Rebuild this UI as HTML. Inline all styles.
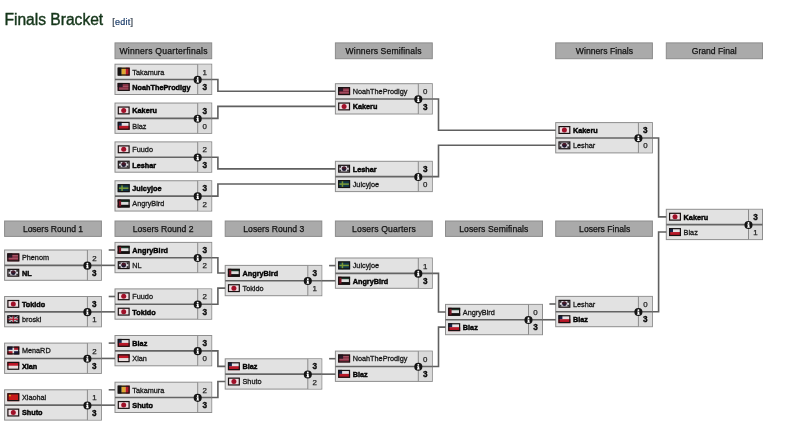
<!DOCTYPE html>
<html><head><meta charset="utf-8"><style>
*{margin:0;padding:0}
html,body{width:800px;height:426px;overflow:hidden;background:#fff}
#wrap{position:absolute;left:0;top:0;width:800px;height:426px;filter:blur(0.4px)}
svg{display:block;font-family:"Liberation Sans",sans-serif}
.h{font-size:8.6px;fill:#111;stroke:#111;stroke-width:0.25px}
.n{font-size:7.6px;fill:#181818;stroke:#181818;stroke-width:0.3px}
.n.b{font-weight:bold;fill:#050505;stroke:#050505;stroke-width:0.45px}
.s{font-size:7.9px;fill:#222;stroke:#222;stroke-width:0.25px}
.s.b{font-size:8.2px;font-weight:bold;fill:#0a0a0a;stroke:#0a0a0a;stroke-width:0.35px}
.tt{font-size:15.6px;fill:#15361a;stroke:#15361a;stroke-width:0.4px}
.ed{font-size:9px;fill:#2e3a48;letter-spacing:0.25px;stroke:#2e3a48;stroke-width:0.2px}
.eb{fill:#20406e;stroke:#20406e}
</style></head><body><div id="wrap"><svg width="800" height="426" viewBox="0 0 800 426">
<defs><g id="f-ae"><rect width="12" height="2.7" fill="#1a3a2a"/><rect y="2.7" width="12" height="2.6" fill="#dcdcdc"/><rect y="5.3" width="12" height="2.7" fill="#111"/><rect width="3.4" height="8" fill="#7a1424"/><rect x="0.6" y="0.6" width="10.8" height="6.8" fill="none" stroke="#181212" stroke-width="1.2"/></g><g id="f-be"><rect width="4" height="8" fill="#151515"/><rect x="4" width="4" height="8" fill="#e0a830"/><rect x="8" width="4" height="8" fill="#b81828"/><rect x="0.6" y="0.6" width="10.8" height="6.8" fill="none" stroke="#181212" stroke-width="1.2"/></g><g id="f-cl"><rect width="12" height="4" fill="#e4e0e4"/><rect y="4" width="12" height="4" fill="#b81828"/><rect width="4" height="4" fill="#182448"/><rect x="0.6" y="0.6" width="10.8" height="6.8" fill="none" stroke="#181212" stroke-width="1.2"/></g><g id="f-cn"><rect width="12" height="8" fill="#c81818"/><circle cx="2.6" cy="2.4" r="1" fill="#d8a020"/><rect x="0.6" y="0.6" width="10.8" height="6.8" fill="none" stroke="#181212" stroke-width="1.2"/></g><g id="f-do"><rect width="12" height="8" fill="#e0e0e0"/><rect width="5.2" height="3.3" fill="#1a1a40"/><rect x="6.8" width="5.2" height="3.3" fill="#a81828"/><rect y="4.7" width="5.2" height="3.3" fill="#a81828"/><rect x="6.8" y="4.7" width="5.2" height="3.3" fill="#1a1a40"/><rect x="0.6" y="0.6" width="10.8" height="6.8" fill="none" stroke="#181212" stroke-width="1.2"/></g><g id="f-gb"><rect width="12" height="8" fill="#221c30"/><path d="M0 0L12 8M12 0L0 8" stroke="#bbb" stroke-width="1.2"/><rect x="5" width="2" height="8" fill="#ddd"/><rect y="3" width="12" height="2" fill="#ddd"/><rect x="5.4" width="1.2" height="8" fill="#b01028"/><rect y="3.4" width="12" height="1.2" fill="#b01028"/><rect x="0.6" y="0.6" width="10.8" height="6.8" fill="none" stroke="#181212" stroke-width="1.2"/></g><g id="f-jp"><rect width="12" height="8" fill="#f0dce0"/><circle cx="6" cy="4" r="2.5" fill="#a01028"/><rect x="0.6" y="0.6" width="10.8" height="6.8" fill="none" stroke="#181212" stroke-width="1.2"/></g><g id="f-kr"><rect width="12" height="8" fill="#d8d4dc"/><circle cx="6" cy="4" r="2.3" fill="#201a30"/><path d="M3.7 4 A2.3 2.3 0 0 1 8.3 4Z" fill="#4a1828"/><rect x="1.2" y="1.2" width="1.8" height="1.8" fill="#333"/><rect x="9" y="1.2" width="1.8" height="1.8" fill="#333"/><rect x="1.2" y="5" width="1.8" height="1.8" fill="#333"/><rect x="9" y="5" width="1.8" height="1.8" fill="#333"/><rect x="0.6" y="0.6" width="10.8" height="6.8" fill="none" stroke="#181212" stroke-width="1.2"/></g><g id="f-se"><rect width="12" height="8" fill="#123a4a"/><rect x="3.6" width="1.5" height="8" fill="#7a9a38"/><rect y="3.3" width="12" height="1.5" fill="#7a9a38"/><rect x="0.6" y="0.6" width="10.8" height="6.8" fill="none" stroke="#181212" stroke-width="1.2"/></g><g id="f-sg"><rect width="12" height="4" fill="#c01828"/><rect y="4" width="12" height="4" fill="#e8dcdc"/><rect x="0.6" y="0.6" width="10.8" height="6.8" fill="none" stroke="#181212" stroke-width="1.2"/></g><g id="f-us"><rect width="12" height="8" fill="#7a2036"/><rect y="1.6" width="12" height="0.8" fill="#b06070"/><rect y="3.2" width="12" height="0.8" fill="#b06070"/><rect y="4.8" width="12" height="0.8" fill="#b06070"/><rect y="6.4" width="12" height="0.8" fill="#b06070"/><rect width="5" height="4.2" fill="#2a1a28"/><rect x="0.6" y="0.6" width="10.8" height="6.8" fill="none" stroke="#181212" stroke-width="1.2"/></g><g id="ic"><circle r="4.05" fill="#141414"/><circle cy="-1.9" r="0.95" fill="#fff"/><path d="M-1.2 -0.6H0.9V1.8H1.3V2.7H-1.3V1.8H-0.8V0.2H-1.2Z" fill="#fff"/></g></defs>
<rect x="115" y="42.9" width="96.7" height="15.8" fill="#aaaaaa" stroke="#8c8c8c" stroke-width="1"/><rect x="335.4" y="42.9" width="96.9" height="15.8" fill="#aaaaaa" stroke="#8c8c8c" stroke-width="1"/><rect x="555.7" y="42.9" width="96.7" height="15.8" fill="#aaaaaa" stroke="#8c8c8c" stroke-width="1"/><rect x="666.3" y="42.9" width="96.2" height="15.8" fill="#aaaaaa" stroke="#8c8c8c" stroke-width="1"/><rect x="4.6" y="221" width="96.8" height="15.4" fill="#aaaaaa" stroke="#8c8c8c" stroke-width="1"/><rect x="115" y="221" width="96.7" height="15.4" fill="#aaaaaa" stroke="#8c8c8c" stroke-width="1"/><rect x="225.2" y="221" width="96.6" height="15.4" fill="#aaaaaa" stroke="#8c8c8c" stroke-width="1"/><rect x="335.4" y="221" width="96.9" height="15.4" fill="#aaaaaa" stroke="#8c8c8c" stroke-width="1"/><rect x="445.5" y="221" width="97" height="15.4" fill="#aaaaaa" stroke="#8c8c8c" stroke-width="1"/><rect x="555.7" y="221" width="96.7" height="15.4" fill="#aaaaaa" stroke="#8c8c8c" stroke-width="1"/><rect x="115" y="64.2" width="96.7" height="30.3" fill="#e2e2e2" stroke="#8e8e8e" stroke-width="1"/><rect x="197.7" y="64.7" width="13.5" height="29.3" fill="#dadada"/><line x1="197.7" y1="64.2" x2="197.7" y2="94.5" stroke="#8a8a8a" stroke-width="1"/><rect x="115" y="103.05" width="96.7" height="30.3" fill="#e2e2e2" stroke="#8e8e8e" stroke-width="1"/><rect x="197.7" y="103.55" width="13.5" height="29.3" fill="#dadada"/><line x1="197.7" y1="103.05" x2="197.7" y2="133.35" stroke="#8a8a8a" stroke-width="1"/><rect x="115" y="141.9" width="96.7" height="30.3" fill="#e2e2e2" stroke="#8e8e8e" stroke-width="1"/><rect x="197.7" y="142.4" width="13.5" height="29.3" fill="#dadada"/><line x1="197.7" y1="141.9" x2="197.7" y2="172.2" stroke="#8a8a8a" stroke-width="1"/><rect x="115" y="180.75" width="96.7" height="30.3" fill="#e2e2e2" stroke="#8e8e8e" stroke-width="1"/><rect x="197.7" y="181.25" width="13.5" height="29.3" fill="#dadada"/><line x1="197.7" y1="180.75" x2="197.7" y2="211.05" stroke="#8a8a8a" stroke-width="1"/><rect x="335.4" y="83.7" width="96.9" height="30.3" fill="#e2e2e2" stroke="#8e8e8e" stroke-width="1"/><rect x="418.3" y="84.2" width="13.5" height="29.3" fill="#dadada"/><line x1="418.3" y1="83.7" x2="418.3" y2="114" stroke="#8a8a8a" stroke-width="1"/><rect x="335.4" y="161.3" width="96.9" height="30.3" fill="#e2e2e2" stroke="#8e8e8e" stroke-width="1"/><rect x="418.3" y="161.8" width="13.5" height="29.3" fill="#dadada"/><line x1="418.3" y1="161.3" x2="418.3" y2="191.6" stroke="#8a8a8a" stroke-width="1"/><rect x="555.7" y="122.6" width="96.7" height="30.3" fill="#e2e2e2" stroke="#8e8e8e" stroke-width="1"/><rect x="638.4" y="123.1" width="13.5" height="29.3" fill="#dadada"/><line x1="638.4" y1="122.6" x2="638.4" y2="152.9" stroke="#8a8a8a" stroke-width="1"/><rect x="666.3" y="209.3" width="96.2" height="30.3" fill="#e2e2e2" stroke="#8e8e8e" stroke-width="1"/><rect x="748.5" y="209.8" width="13.5" height="29.3" fill="#dadada"/><line x1="748.5" y1="209.3" x2="748.5" y2="239.6" stroke="#8a8a8a" stroke-width="1"/><rect x="4.6" y="250" width="96.8" height="30.3" fill="#e2e2e2" stroke="#8e8e8e" stroke-width="1"/><rect x="87.4" y="250.5" width="13.5" height="29.3" fill="#dadada"/><line x1="87.4" y1="250" x2="87.4" y2="280.3" stroke="#8a8a8a" stroke-width="1"/><rect x="4.6" y="296.5" width="96.8" height="30.3" fill="#e2e2e2" stroke="#8e8e8e" stroke-width="1"/><rect x="87.4" y="297" width="13.5" height="29.3" fill="#dadada"/><line x1="87.4" y1="296.5" x2="87.4" y2="326.8" stroke="#8a8a8a" stroke-width="1"/><rect x="4.6" y="343.1" width="96.8" height="30.3" fill="#e2e2e2" stroke="#8e8e8e" stroke-width="1"/><rect x="87.4" y="343.6" width="13.5" height="29.3" fill="#dadada"/><line x1="87.4" y1="343.1" x2="87.4" y2="373.4" stroke="#8a8a8a" stroke-width="1"/><rect x="4.6" y="389.8" width="96.8" height="30.3" fill="#e2e2e2" stroke="#8e8e8e" stroke-width="1"/><rect x="87.4" y="390.3" width="13.5" height="29.3" fill="#dadada"/><line x1="87.4" y1="389.8" x2="87.4" y2="420.1" stroke="#8a8a8a" stroke-width="1"/><rect x="115" y="242.4" width="96.7" height="30.3" fill="#e2e2e2" stroke="#8e8e8e" stroke-width="1"/><rect x="197.7" y="242.9" width="13.5" height="29.3" fill="#dadada"/><line x1="197.7" y1="242.4" x2="197.7" y2="272.7" stroke="#8a8a8a" stroke-width="1"/><rect x="115" y="288.9" width="96.7" height="30.3" fill="#e2e2e2" stroke="#8e8e8e" stroke-width="1"/><rect x="197.7" y="289.4" width="13.5" height="29.3" fill="#dadada"/><line x1="197.7" y1="288.9" x2="197.7" y2="319.2" stroke="#8a8a8a" stroke-width="1"/><rect x="115" y="335.5" width="96.7" height="30.3" fill="#e2e2e2" stroke="#8e8e8e" stroke-width="1"/><rect x="197.7" y="336" width="13.5" height="29.3" fill="#dadada"/><line x1="197.7" y1="335.5" x2="197.7" y2="365.8" stroke="#8a8a8a" stroke-width="1"/><rect x="115" y="382.2" width="96.7" height="30.3" fill="#e2e2e2" stroke="#8e8e8e" stroke-width="1"/><rect x="197.7" y="382.7" width="13.5" height="29.3" fill="#dadada"/><line x1="197.7" y1="382.2" x2="197.7" y2="412.5" stroke="#8a8a8a" stroke-width="1"/><rect x="225.2" y="265.4" width="96.6" height="30.3" fill="#e2e2e2" stroke="#8e8e8e" stroke-width="1"/><rect x="307.8" y="265.9" width="13.5" height="29.3" fill="#dadada"/><line x1="307.8" y1="265.4" x2="307.8" y2="295.7" stroke="#8a8a8a" stroke-width="1"/><rect x="225.2" y="358.8" width="96.6" height="30.3" fill="#e2e2e2" stroke="#8e8e8e" stroke-width="1"/><rect x="307.8" y="359.3" width="13.5" height="29.3" fill="#dadada"/><line x1="307.8" y1="358.8" x2="307.8" y2="389.1" stroke="#8a8a8a" stroke-width="1"/><rect x="335.4" y="258" width="96.9" height="30.3" fill="#e2e2e2" stroke="#8e8e8e" stroke-width="1"/><rect x="418.3" y="258.5" width="13.5" height="29.3" fill="#dadada"/><line x1="418.3" y1="258" x2="418.3" y2="288.3" stroke="#8a8a8a" stroke-width="1"/><rect x="335.4" y="351.1" width="96.9" height="30.3" fill="#e2e2e2" stroke="#8e8e8e" stroke-width="1"/><rect x="418.3" y="351.6" width="13.5" height="29.3" fill="#dadada"/><line x1="418.3" y1="351.1" x2="418.3" y2="381.4" stroke="#8a8a8a" stroke-width="1"/><rect x="445.5" y="304.4" width="97" height="30.3" fill="#e2e2e2" stroke="#8e8e8e" stroke-width="1"/><rect x="528.5" y="304.9" width="13.5" height="29.3" fill="#dadada"/><line x1="528.5" y1="304.4" x2="528.5" y2="334.7" stroke="#8a8a8a" stroke-width="1"/><rect x="555.7" y="296.4" width="96.7" height="30.3" fill="#e2e2e2" stroke="#8e8e8e" stroke-width="1"/><rect x="638.4" y="296.9" width="13.5" height="29.3" fill="#dadada"/><line x1="638.4" y1="296.4" x2="638.4" y2="326.7" stroke="#8a8a8a" stroke-width="1"/>
<line x1="115" y1="79.55" x2="211.7" y2="79.55" stroke="#646464" stroke-width="1.6"/><line x1="115" y1="118.4" x2="211.7" y2="118.4" stroke="#646464" stroke-width="1.6"/><line x1="115" y1="157.25" x2="211.7" y2="157.25" stroke="#646464" stroke-width="1.6"/><line x1="115" y1="196.1" x2="211.7" y2="196.1" stroke="#646464" stroke-width="1.6"/><line x1="335.4" y1="99.05" x2="432.3" y2="99.05" stroke="#646464" stroke-width="1.6"/><line x1="335.4" y1="176.65" x2="432.3" y2="176.65" stroke="#646464" stroke-width="1.6"/><line x1="555.7" y1="137.95" x2="652.4" y2="137.95" stroke="#646464" stroke-width="1.6"/><line x1="666.3" y1="224.65" x2="762.5" y2="224.65" stroke="#646464" stroke-width="1.6"/><line x1="4.6" y1="265.35" x2="101.4" y2="265.35" stroke="#646464" stroke-width="1.6"/><line x1="4.6" y1="311.85" x2="101.4" y2="311.85" stroke="#646464" stroke-width="1.6"/><line x1="4.6" y1="358.45" x2="101.4" y2="358.45" stroke="#646464" stroke-width="1.6"/><line x1="4.6" y1="405.15" x2="101.4" y2="405.15" stroke="#646464" stroke-width="1.6"/><line x1="115" y1="257.75" x2="211.7" y2="257.75" stroke="#646464" stroke-width="1.6"/><line x1="115" y1="304.25" x2="211.7" y2="304.25" stroke="#646464" stroke-width="1.6"/><line x1="115" y1="350.85" x2="211.7" y2="350.85" stroke="#646464" stroke-width="1.6"/><line x1="115" y1="397.55" x2="211.7" y2="397.55" stroke="#646464" stroke-width="1.6"/><line x1="225.2" y1="280.75" x2="321.8" y2="280.75" stroke="#646464" stroke-width="1.6"/><line x1="225.2" y1="374.15" x2="321.8" y2="374.15" stroke="#646464" stroke-width="1.6"/><line x1="335.4" y1="273.35" x2="432.3" y2="273.35" stroke="#646464" stroke-width="1.6"/><line x1="335.4" y1="366.45" x2="432.3" y2="366.45" stroke="#646464" stroke-width="1.6"/><line x1="445.5" y1="319.75" x2="542.5" y2="319.75" stroke="#646464" stroke-width="1.6"/><line x1="555.7" y1="311.75" x2="652.4" y2="311.75" stroke="#646464" stroke-width="1.6"/><path d="M211.7 79.55H217.9V91.3H335.4" fill="none" stroke="#606060" stroke-width="1.6"/><path d="M211.7 118.4H217.9V106.4H335.4" fill="none" stroke="#606060" stroke-width="1.6"/><path d="M211.7 157.25H217.9V168.9H335.4" fill="none" stroke="#606060" stroke-width="1.6"/><path d="M211.7 196.1H217.9V184H335.4" fill="none" stroke="#606060" stroke-width="1.6"/><path d="M432.3 99.05H438.5V130.2H555.7" fill="none" stroke="#606060" stroke-width="1.6"/><path d="M432.3 176.65H438.5V145.3H555.7" fill="none" stroke="#606060" stroke-width="1.6"/><path d="M652.4 137.95H658.6V216.9H666.3" fill="none" stroke="#606060" stroke-width="1.6"/><path d="M652.4 311.75H658.6V232H666.3" fill="none" stroke="#606060" stroke-width="1.6"/><path d="M101.4 265.35H115" fill="none" stroke="#606060" stroke-width="1.6"/><path d="M108.7 250H115" fill="none" stroke="#606060" stroke-width="1.6"/><path d="M101.4 311.85H115" fill="none" stroke="#606060" stroke-width="1.6"/><path d="M108.7 296.5H115" fill="none" stroke="#606060" stroke-width="1.6"/><path d="M101.4 358.45H115" fill="none" stroke="#606060" stroke-width="1.6"/><path d="M108.7 343.1H115" fill="none" stroke="#606060" stroke-width="1.6"/><path d="M101.4 405.15H115" fill="none" stroke="#606060" stroke-width="1.6"/><path d="M108.7 389.8H115" fill="none" stroke="#606060" stroke-width="1.6"/><path d="M211.7 257.75H217.9V273H225.2" fill="none" stroke="#606060" stroke-width="1.6"/><path d="M211.7 304.25H217.9V288.1H225.2" fill="none" stroke="#606060" stroke-width="1.6"/><path d="M211.7 350.85H217.9V366.4H225.2" fill="none" stroke="#606060" stroke-width="1.6"/><path d="M211.7 397.55H217.9V381.5H225.2" fill="none" stroke="#606060" stroke-width="1.6"/><path d="M321.8 280.75H335.4" fill="none" stroke="#606060" stroke-width="1.6"/><path d="M329.1 265.6H335.4" fill="none" stroke="#606060" stroke-width="1.6"/><path d="M321.8 374.15H335.4" fill="none" stroke="#606060" stroke-width="1.6"/><path d="M329.1 358.7H335.4" fill="none" stroke="#606060" stroke-width="1.6"/><path d="M432.3 273.35H438.5V312H445.5" fill="none" stroke="#606060" stroke-width="1.6"/><path d="M432.3 366.45H438.5V327.1H445.5" fill="none" stroke="#606060" stroke-width="1.6"/><path d="M542.5 319.75H555.7" fill="none" stroke="#606060" stroke-width="1.6"/><path d="M549.4 304H555.7" fill="none" stroke="#606060" stroke-width="1.6"/>
<use href="#f-be" x="117.7" y="67.6"/><use href="#f-us" x="117.7" y="82.95"/><use href="#ic" x="197.7" y="79.85"/><use href="#f-jp" x="117.7" y="106.45"/><use href="#f-cl" x="117.7" y="121.8"/><use href="#ic" x="197.7" y="118.7"/><use href="#f-jp" x="117.7" y="145.3"/><use href="#f-kr" x="117.7" y="160.65"/><use href="#ic" x="197.7" y="157.55"/><use href="#f-se" x="117.7" y="184.15"/><use href="#f-ae" x="117.7" y="199.5"/><use href="#ic" x="197.7" y="196.4"/><use href="#f-us" x="338.1" y="87.1"/><use href="#f-jp" x="338.1" y="102.45"/><use href="#ic" x="418.3" y="99.35"/><use href="#f-kr" x="338.1" y="164.7"/><use href="#f-se" x="338.1" y="180.05"/><use href="#ic" x="418.3" y="176.95"/><use href="#f-jp" x="558.4" y="126"/><use href="#f-kr" x="558.4" y="141.35"/><use href="#ic" x="638.4" y="138.25"/><use href="#f-jp" x="669" y="212.7"/><use href="#f-cl" x="669" y="228.05"/><use href="#ic" x="748.5" y="224.95"/><use href="#f-us" x="7.3" y="253.4"/><use href="#f-kr" x="7.3" y="268.75"/><use href="#ic" x="87.4" y="265.65"/><use href="#f-jp" x="7.3" y="299.9"/><use href="#f-gb" x="7.3" y="315.25"/><use href="#ic" x="87.4" y="312.15"/><use href="#f-do" x="7.3" y="346.5"/><use href="#f-sg" x="7.3" y="361.85"/><use href="#ic" x="87.4" y="358.75"/><use href="#f-cn" x="7.3" y="393.2"/><use href="#f-jp" x="7.3" y="408.55"/><use href="#ic" x="87.4" y="405.45"/><use href="#f-ae" x="117.7" y="245.8"/><use href="#f-kr" x="117.7" y="261.15"/><use href="#ic" x="197.7" y="258.05"/><use href="#f-jp" x="117.7" y="292.3"/><use href="#f-jp" x="117.7" y="307.65"/><use href="#ic" x="197.7" y="304.55"/><use href="#f-cl" x="117.7" y="338.9"/><use href="#f-sg" x="117.7" y="354.25"/><use href="#ic" x="197.7" y="351.15"/><use href="#f-be" x="117.7" y="385.6"/><use href="#f-jp" x="117.7" y="400.95"/><use href="#ic" x="197.7" y="397.85"/><use href="#f-ae" x="227.9" y="268.8"/><use href="#f-jp" x="227.9" y="284.15"/><use href="#ic" x="307.8" y="281.05"/><use href="#f-cl" x="227.9" y="362.2"/><use href="#f-jp" x="227.9" y="377.55"/><use href="#ic" x="307.8" y="374.45"/><use href="#f-se" x="338.1" y="261.4"/><use href="#f-ae" x="338.1" y="276.75"/><use href="#ic" x="418.3" y="273.65"/><use href="#f-us" x="338.1" y="354.5"/><use href="#f-cl" x="338.1" y="369.85"/><use href="#ic" x="418.3" y="366.75"/><use href="#f-ae" x="448.2" y="307.8"/><use href="#f-cl" x="448.2" y="323.15"/><use href="#ic" x="528.5" y="320.05"/><use href="#f-kr" x="558.4" y="299.8"/><use href="#f-cl" x="558.4" y="315.15"/><use href="#ic" x="638.4" y="312.05"/>
<text class="h" x="119.4" y="53.8" textLength="88.1" lengthAdjust="spacing">Winners Quarterfinals</text><text class="h" x="345.6" y="53.8" textLength="75.9" lengthAdjust="spacing">Winners Semifinals</text><text class="h" x="575.8" y="53.8" textLength="57.3" lengthAdjust="spacing">Winners Finals</text><text class="h" x="691.7" y="53.8" textLength="45" lengthAdjust="spacing">Grand Final</text><text class="h" x="22.9" y="231.9" textLength="60.1" lengthAdjust="spacing">Losers Round 1</text><text class="h" x="132.8" y="231.9" textLength="60.7" lengthAdjust="spacing">Losers Round 2</text><text class="h" x="243.3" y="231.9" textLength="61" lengthAdjust="spacing">Losers Round 3</text><text class="h" x="352.1" y="231.9" textLength="63.6" lengthAdjust="spacing">Losers Quarters</text><text class="h" x="459.2" y="231.9" textLength="69.2" lengthAdjust="spacing">Losers Semifinals</text><text class="h" x="579.1" y="231.9" textLength="51.1" lengthAdjust="spacing">Losers Finals</text><text class="n" transform="matrix(0.96 0 0 1 132.3 74.5)">Takamura</text><text class="s" x="204.7" y="74.7" text-anchor="middle">1</text><text class="n b" transform="matrix(0.96 0 0 1 132.3 89.85)">NoahTheProdigy</text><text class="s b" x="204.7" y="90.05" text-anchor="middle">3</text><text class="n b" transform="matrix(0.96 0 0 1 132.3 113.35)">Kakeru</text><text class="s b" x="204.7" y="113.55" text-anchor="middle">3</text><text class="n" transform="matrix(0.96 0 0 1 132.3 128.7)">Blaz</text><text class="s" x="204.7" y="128.9" text-anchor="middle">0</text><text class="n" transform="matrix(0.96 0 0 1 132.3 152.2)">Fuudo</text><text class="s" x="204.7" y="152.4" text-anchor="middle">2</text><text class="n b" transform="matrix(0.96 0 0 1 132.3 167.55)">Leshar</text><text class="s b" x="204.7" y="167.75" text-anchor="middle">3</text><text class="n b" transform="matrix(0.96 0 0 1 132.3 191.05)">Juicyjoe</text><text class="s b" x="204.7" y="191.25" text-anchor="middle">3</text><text class="n" transform="matrix(0.96 0 0 1 132.3 206.4)">AngryBird</text><text class="s" x="204.7" y="206.6" text-anchor="middle">2</text><text class="n" transform="matrix(0.96 0 0 1 352.7 94)">NoahTheProdigy</text><text class="s" x="425.3" y="94.2" text-anchor="middle">0</text><text class="n b" transform="matrix(0.96 0 0 1 352.7 109.35)">Kakeru</text><text class="s b" x="425.3" y="109.55" text-anchor="middle">3</text><text class="n b" transform="matrix(0.96 0 0 1 352.7 171.6)">Leshar</text><text class="s b" x="425.3" y="171.8" text-anchor="middle">3</text><text class="n" transform="matrix(0.96 0 0 1 352.7 186.95)">Juicyjoe</text><text class="s" x="425.3" y="187.15" text-anchor="middle">0</text><text class="n b" transform="matrix(0.96 0 0 1 573 132.9)">Kakeru</text><text class="s b" x="645.4" y="133.1" text-anchor="middle">3</text><text class="n" transform="matrix(0.96 0 0 1 573 148.25)">Leshar</text><text class="s" x="645.4" y="148.45" text-anchor="middle">0</text><text class="n b" transform="matrix(0.96 0 0 1 683.6 219.6)">Kakeru</text><text class="s b" x="755.5" y="219.8" text-anchor="middle">3</text><text class="n" transform="matrix(0.96 0 0 1 683.6 234.95)">Blaz</text><text class="s" x="755.5" y="235.15" text-anchor="middle">1</text><text class="n" transform="matrix(0.96 0 0 1 21.9 260.3)">Phenom</text><text class="s" x="94.4" y="260.5" text-anchor="middle">2</text><text class="n b" transform="matrix(0.96 0 0 1 21.9 275.65)">NL</text><text class="s b" x="94.4" y="275.85" text-anchor="middle">3</text><text class="n b" transform="matrix(0.96 0 0 1 21.9 306.8)">Tokido</text><text class="s b" x="94.4" y="307" text-anchor="middle">3</text><text class="n" transform="matrix(0.96 0 0 1 21.9 322.15)">broski</text><text class="s" x="94.4" y="322.35" text-anchor="middle">1</text><text class="n" transform="matrix(0.96 0 0 1 21.9 353.4)">MenaRD</text><text class="s" x="94.4" y="353.6" text-anchor="middle">2</text><text class="n b" transform="matrix(0.96 0 0 1 21.9 368.75)">Xian</text><text class="s b" x="94.4" y="368.95" text-anchor="middle">3</text><text class="n" transform="matrix(0.96 0 0 1 21.9 400.1)">Xiaohai</text><text class="s" x="94.4" y="400.3" text-anchor="middle">1</text><text class="n b" transform="matrix(0.96 0 0 1 21.9 415.45)">Shuto</text><text class="s b" x="94.4" y="415.65" text-anchor="middle">3</text><text class="n b" transform="matrix(0.96 0 0 1 132.3 252.7)">AngryBird</text><text class="s b" x="204.7" y="252.9" text-anchor="middle">3</text><text class="n" transform="matrix(0.96 0 0 1 132.3 268.05)">NL</text><text class="s" x="204.7" y="268.25" text-anchor="middle">2</text><text class="n" transform="matrix(0.96 0 0 1 132.3 299.2)">Fuudo</text><text class="s" x="204.7" y="299.4" text-anchor="middle">2</text><text class="n b" transform="matrix(0.96 0 0 1 132.3 314.55)">Tokido</text><text class="s b" x="204.7" y="314.75" text-anchor="middle">3</text><text class="n b" transform="matrix(0.96 0 0 1 132.3 345.8)">Blaz</text><text class="s b" x="204.7" y="346" text-anchor="middle">3</text><text class="n" transform="matrix(0.96 0 0 1 132.3 361.15)">Xian</text><text class="s" x="204.7" y="361.35" text-anchor="middle">0</text><text class="n" transform="matrix(0.96 0 0 1 132.3 392.5)">Takamura</text><text class="s" x="204.7" y="392.7" text-anchor="middle">2</text><text class="n b" transform="matrix(0.96 0 0 1 132.3 407.85)">Shuto</text><text class="s b" x="204.7" y="408.05" text-anchor="middle">3</text><text class="n b" transform="matrix(0.96 0 0 1 242.5 275.7)">AngryBird</text><text class="s b" x="314.8" y="275.9" text-anchor="middle">3</text><text class="n" transform="matrix(0.96 0 0 1 242.5 291.05)">Tokido</text><text class="s" x="314.8" y="291.25" text-anchor="middle">1</text><text class="n b" transform="matrix(0.96 0 0 1 242.5 369.1)">Blaz</text><text class="s b" x="314.8" y="369.3" text-anchor="middle">3</text><text class="n" transform="matrix(0.96 0 0 1 242.5 384.45)">Shuto</text><text class="s" x="314.8" y="384.65" text-anchor="middle">2</text><text class="n" transform="matrix(0.96 0 0 1 352.7 268.3)">Juicyjoe</text><text class="s" x="425.3" y="268.5" text-anchor="middle">1</text><text class="n b" transform="matrix(0.96 0 0 1 352.7 283.65)">AngryBird</text><text class="s b" x="425.3" y="283.85" text-anchor="middle">3</text><text class="n" transform="matrix(0.96 0 0 1 352.7 361.4)">NoahTheProdigy</text><text class="s" x="425.3" y="361.6" text-anchor="middle">0</text><text class="n b" transform="matrix(0.96 0 0 1 352.7 376.75)">Blaz</text><text class="s b" x="425.3" y="376.95" text-anchor="middle">3</text><text class="n" transform="matrix(0.96 0 0 1 462.8 314.7)">AngryBird</text><text class="s" x="535.5" y="314.9" text-anchor="middle">0</text><text class="n b" transform="matrix(0.96 0 0 1 462.8 330.05)">Blaz</text><text class="s b" x="535.5" y="330.25" text-anchor="middle">3</text><text class="n" transform="matrix(0.96 0 0 1 573 306.7)">Leshar</text><text class="s" x="645.4" y="306.9" text-anchor="middle">0</text><text class="n b" transform="matrix(0.96 0 0 1 573 322.05)">Blaz</text><text class="s b" x="645.4" y="322.25" text-anchor="middle">3</text>
<text class="tt" x="4.4" y="25">Finals Bracket</text>
<text class="ed" x="112.3" y="25.3">[<tspan class="eb">edit</tspan>]</text>
</svg></div></body></html>
